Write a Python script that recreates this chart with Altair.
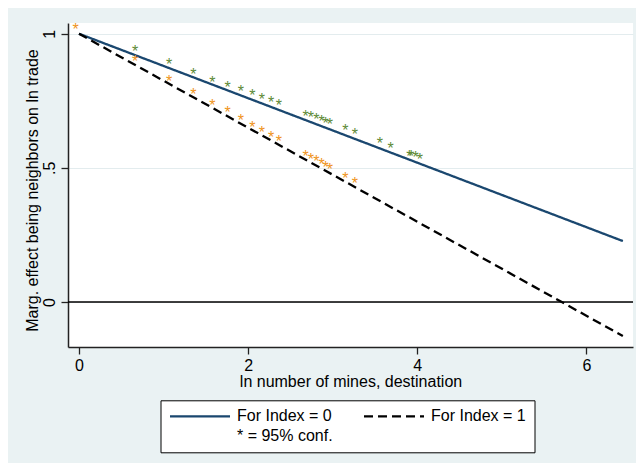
import altair as alt
import pandas as pd

# Fitted marginal-effect lines (endpoints)
line_x = [0.0, 6.43]
index0_y = [1.0, 0.227]
index1_y = [1.0, -0.127]
# legend entries (column-major order: col 1 = Index 0 and note, col 2 = Index 1)
series_names = ["For Index = 0", "* = 95% conf.", "For Index = 1"]

# Significance markers (*) for Index = 0 (green)
green_x = [0.662, 1.064, 1.351, 1.576, 1.757, 1.915, 2.049, 2.163, 2.270, 2.364,
           2.679, 2.742, 2.805, 2.868, 2.916, 2.967, 3.148, 3.262, 3.558, 3.684,
           3.905, 3.928, 3.980, 4.031]
green_y = [0.948, 0.899, 0.862, 0.833, 0.814, 0.796, 0.781, 0.766, 0.755, 0.744,
           0.706, 0.699, 0.692, 0.685, 0.678, 0.674, 0.651, 0.636, 0.602, 0.584,
           0.557, 0.556, 0.550, 0.543]

# Significance markers (*) for Index = 1 (orange)
orange_x = [-0.039, 0.662, 1.064, 1.351, 1.576, 1.757, 1.915, 2.049, 2.163, 2.270,
            2.364, 2.679, 2.742, 2.805, 2.868, 2.916, 2.967, 3.148, 3.262]
orange_y = [1.029, 0.908, 0.835, 0.788, 0.747, 0.718, 0.688, 0.665, 0.643, 0.628,
            0.610, 0.554, 0.545, 0.538, 0.526, 0.514, 0.507, 0.473, 0.454]

x_ticks = [0, 2, 4, 6]
y_ticks = [0, 0.5, 1]
ref_line = [0]

FONT = "Liberation Sans"
NAVY = "#1A476F"
GREEN = "#5E8A36"
ORANGE = "#EF9421"

lines_df = pd.DataFrame({
    "x": line_x * 2,
    "y": index0_y + index1_y,
    "series": [series_names[0]] * 2 + [series_names[2]] * 2,
})
green_df = pd.DataFrame({"x": green_x, "y": green_y})
orange_df = pd.DataFrame({"x": orange_x, "y": orange_y})
ref_df = pd.DataFrame({"y": ref_line})

xscale = alt.Scale(domain=[-0.13, 6.55], nice=False, zero=False)
yscale = alt.Scale(domain=[-0.168, 1.04], nice=False, zero=False)

xaxis = alt.Axis(values=x_ticks, format="d", title="ln number of mines, destination",
                 grid=False, tickSize=7, labelPadding=16, labelBaseline="alphabetic",
                 titleBaseline="alphabetic", titleY=39.7, titlePadding=0)
yaxis = alt.Axis(values=y_ticks, title="Marg. effect being neighbors on ln trade",
                 labelExpr="datum.value == 0.5 ? '.5' : format(datum.value, 'd')",
                 grid=True, gridColor="#E3ECEE", gridWidth=1,
                 tickSize=7, labelAngle=270, labelAlign="center",
                 labelBaseline="alphabetic", labelPadding=7,
                 titleAngle=270, titleAlign="center", titleBaseline="alphabetic",
                 titleX=-30.5, titleY=167)

legend = alt.Legend(
    orient="none", legendX=92.5, legendY=377.3, title=None,
    columns=2, columnPadding=29, rowPadding=4, padding=8,
    symbolType="stroke", symbolSize=3600, symbolStrokeWidth=2.2, clipHeight=16,
    labelFontSize=16, labelFont=FONT, labelColor="black", labelOffset=5.5, labelLimit=300,
    strokeColor="black", fillColor="white",
)

lines = alt.Chart(lines_df).mark_line(strokeWidth=2.3, clip=True).encode(
    x=alt.X("x:Q", scale=xscale, axis=xaxis),
    y=alt.Y("y:Q", scale=yscale, axis=yaxis),
    color=alt.Color("series:N", scale=alt.Scale(domain=series_names,
                    range=[NAVY, "rgba(0,0,0,0)", "#000000"]), legend=legend),
    strokeDash=alt.StrokeDash("series:N", scale=alt.Scale(domain=series_names,
                    range=[[1, 0], [1, 0], [9, 5]]), legend=legend),
    detail="series:N",
)

rule = alt.Chart(ref_df).mark_rule(color="black", strokeWidth=1.5).encode(
    y=alt.Y("y:Q", scale=yscale),
)

green_stars = alt.Chart(green_df).mark_text(
    text="*", font=FONT, fontSize=16, color=GREEN, baseline="alphabetic", dy=9
).encode(x=alt.X("x:Q", scale=xscale), y=alt.Y("y:Q", scale=yscale))

orange_stars = alt.Chart(orange_df).mark_text(
    text="*", font=FONT, fontSize=16, color=ORANGE, baseline="alphabetic", dy=9
).encode(x=alt.X("x:Q", scale=xscale), y=alt.Y("y:Q", scale=yscale))

chart = alt.layer(rule, lines, green_stars, orange_stars).properties(
    width=565, height=324,
    autosize=alt.AutoSizeParams(type="none"),
    padding={"left": 60, "top": 15, "right": 3, "bottom": 116},
    background="#EAF2F3",
).configure_view(
    fill="white", strokeWidth=0
).configure_axis(
    labelFont=FONT, titleFont=FONT, labelFontSize=16, titleFontSize=16,
    labelColor="black", titleColor="black", titleFontWeight="normal",
    domainColor="#222222", domainWidth=1.5, tickColor="#222222", tickWidth=1.3,
)

chart.save("out.html", embed_options={"renderer": "svg", "actions": False})
